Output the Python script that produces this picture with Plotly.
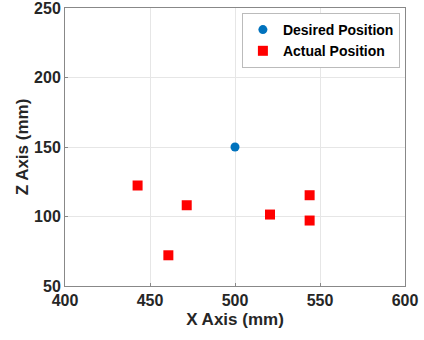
import plotly.graph_objects as go

desired_x = [500]
desired_z = [150]
actual_x = [442.7, 460.8, 471.6, 520.6, 543.9, 543.9]
actual_z = [122.3, 72.1, 108.1, 101.4, 115.3, 97.1]
x_ticks = [400, 450, 500, 550, 600]
z_ticks = [50, 100, 150, 200, 250]

fig = go.Figure()
fig.add_trace(go.Scatter(x=desired_x, y=desired_z, mode="markers", name="Desired Position",
                         marker=dict(symbol="circle", size=9, color="#0072BD")))
fig.add_trace(go.Scatter(x=actual_x, y=actual_z, mode="markers", name="Actual Position",
                         marker=dict(symbol="square", size=10, color="#FF0000")))

axis_common = dict(showgrid=True, gridcolor="#E6E6E6", gridwidth=1, zeroline=False,
                   showline=True, linecolor="#888888", linewidth=1, mirror=True,
                   ticks="inside", ticklen=3, tickcolor="#888888", automargin=False,
                   ticklabeloverflow="allow",
                   tickfont=dict(family="Liberation Sans, Arial", size=16, color="#262626", weight="bold"))

fig.update_layout(
    width=424, height=340,
    margin=dict(l=65, r=19, t=8, b=54),
    paper_bgcolor="white", plot_bgcolor="white",
    font=dict(family="Liberation Sans, Arial", color="#262626"),
    showlegend=True,
    legend=dict(x=0.985, y=0.982, xanchor="right", yanchor="top",
                bgcolor="white", bordercolor="#BBBBBB", borderwidth=1,
                font=dict(size=14, color="black", weight="bold"),
                itemwidth=30, tracegroupgap=0),
)
fig.update_xaxes(range=[400, 600], tickvals=x_ticks, ticklabelstandoff=0,
                 title=dict(text="X Axis (mm)", font=dict(size=17, weight="bold", color="#262626"), standoff=4),
                 **axis_common)
fig.update_yaxes(range=[50, 250], tickvals=z_ticks,
                 title=dict(text="Z Axis (mm)", font=dict(size=17, weight="bold", color="#262626"), standoff=1),
                 **axis_common)

fig.write_html("out.html", config={"displayModeBar": False},
               post_script="document.body.style.margin='0';")
